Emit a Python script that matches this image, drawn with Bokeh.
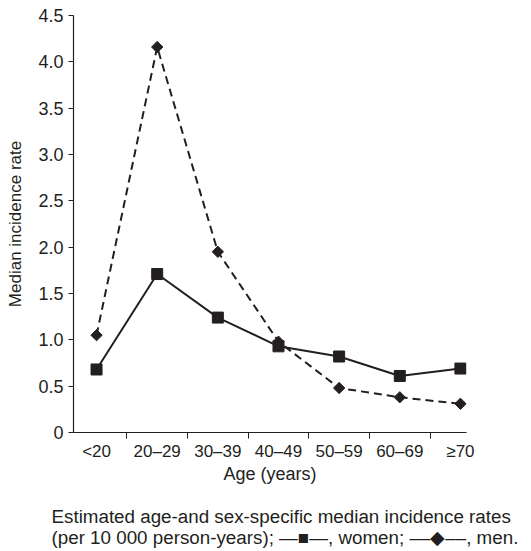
import math
from bokeh.plotting import figure
from bokeh.layouts import column
from bokeh.models import FixedTicker, Range1d, Title
from bokeh.embed import file_html
from bokeh.resources import INLINE

# Data
age_groups = ["<20", "20\u201329", "30\u201339", "40\u201349", "50\u201359", "60\u201369", "\u226570"]
women = [0.68, 1.71, 1.24, 0.93, 0.82, 0.61, 0.69]
men = [1.05, 4.16, 1.95, 0.98, 0.48, 0.38, 0.31]
y_ticks = [0, 0.5, 1.0, 1.5, 2.0, 2.5, 3.0, 3.5, 4.0, 4.5]
y_tick_labels = ["0", "0.5", "1.0", "1.5", "2.0", "2.5", "3.0", "3.5", "4.0", "4.5"]
caption_lines = [
    "Estimated age-and sex-specific median incidence rates",
    "(per 10 000 person-years); \u2014\u25a0\u2014, women; \u2013\u2013\u25c6\u2013\u2013, men.",
]

FONT = "Liberation Sans"
INK = "#231f20"

xs = list(range(len(age_groups)))

p = figure(width=531, height=490, output_backend="svg", toolbar_location=None,
           x_range=Range1d(-0.38, 6.1), y_range=Range1d(0, 4.5),
           min_border_left=73, min_border_right=65, min_border_top=15,
           min_border_bottom=58)
p.outline_line_color = None
p.xgrid.visible = False
p.ygrid.visible = False

# men (dashed, diamonds)
p.line(xs, men, line_color=INK, line_width=2, line_dash="8 5")
p.scatter(xs, men, marker="square", angle=math.pi / 4, size=8,
          fill_color=INK, line_color=INK)
# women (solid, squares)
p.line(xs, women, line_color=INK, line_width=2)
p.scatter(xs, women, marker="square", size=11, fill_color=INK, line_color=INK)

# y axis
p.yaxis.ticker = FixedTicker(ticks=y_ticks)
p.yaxis.major_label_overrides = {v: s for v, s in zip(y_ticks, y_tick_labels)}
p.yaxis.axis_label = "Median incidence rate"
p.yaxis.minor_tick_line_color = None
p.yaxis.major_tick_out = 5
p.yaxis.major_tick_in = 0
p.yaxis.major_label_standoff = 5
p.yaxis.axis_label_standoff = 10
p.yaxis.major_label_text_font_size = "18px"
p.yaxis.axis_label_text_font_size = "17px"

# x axis
p.xaxis.ticker = FixedTicker(ticks=xs, minor_ticks=[i + 0.5 for i in xs[:-1]])
p.xaxis.major_label_overrides = {i: lab for i, lab in enumerate(age_groups)}
p.xaxis.axis_label = "Age (years)"
p.xaxis.major_tick_out = 0
p.xaxis.major_tick_in = 0
p.xaxis.minor_tick_out = 6
p.xaxis.minor_tick_in = 0
p.xaxis.major_label_standoff = 3
p.xaxis.axis_label_standoff = 0
p.xaxis.minor_tick_line_color = INK
p.xaxis.major_label_text_font_size = "17px"
p.xaxis.axis_label_text_font_size = "18px"

for ax in (p.xaxis, p.yaxis):
    ax.axis_line_color = INK
    ax.axis_line_width = 1.2
    ax.major_tick_line_color = INK
    ax.major_label_text_font = FONT
    ax.major_label_text_color = INK
    ax.axis_label_text_font = FONT
    ax.axis_label_text_font_style = "normal"
    ax.axis_label_text_color = INK

# caption panel (below the chart)
cap = figure(width=531, height=61, output_backend="svg", toolbar_location=None,
             x_axis_type=None, y_axis_type=None, min_border=0,
             min_border_left=73, min_border_right=65,
             x_range=Range1d(0, 1), y_range=Range1d(0, 1))
cap.outline_line_color = None
cap.xgrid.visible = False
cap.ygrid.visible = False
cap.add_layout(Title(text="\n".join(caption_lines), align="left", offset=-22,
                     standoff=8, vertical_align="bottom",
                     text_font=FONT, text_font_size="18.8px", text_font_style="normal",
                     text_line_height=1.0, text_color=INK), "below")

open("out.html", "w").write(file_html(column(p, cap), INLINE))
